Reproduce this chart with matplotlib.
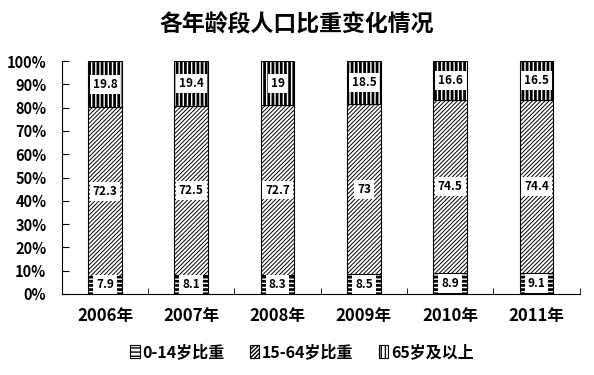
"""Stacked percentage bars of population share by age group"""
import matplotlib
matplotlib.use("Agg")
import matplotlib.pyplot as plt
import numpy as np

plt.rcParams["font.family"] = ["Noto Sans CJK SC", "DejaVu Sans"]

years = ["2006年", "2007年", "2008年", "2009年", "2010年", "2011年"]
child = [7.9, 8.1, 8.3, 8.5, 8.9, 9.1]
working = [72.3, 72.5, 72.7, 73, 74.5, 74.4]
elderly = [19.8, 19.4, 19, 18.5, 16.6, 16.5]
series_names = ["0-14岁比重", "15-64岁比重", "65岁及以上"]


def main():
    """Draw the chart and save it"""
    fig = plt.figure(figsize=(5.94, 3.75), dpi=100)
    ax = fig.add_axes([0.104, 0.216, 0.872, 0.621])

    x = np.arange(len(years))
    width = 0.39
    bottom = np.zeros(len(years))
    hatches = ["----", "////////", "||||"]
    hatch_widths = [2.0, 0.7, 2.0]
    for vals, name, hatch, hw in zip([child, working, elderly], series_names,
                                     hatches, hatch_widths):
        vals = np.array(vals)
        with plt.rc_context({"hatch.linewidth": hw}):
            bars = ax.bar(x, vals, width, bottom=bottom, color="white",
                          edgecolor="black", hatch=hatch, linewidth=0.8,
                          label=name)
        for rect in bars:
            try:
                rect.set_hatch_linewidth(hw)
            except AttributeError:
                pass
        for rect, v, b in zip(bars, vals, bottom):
            ax.text(rect.get_x() + rect.get_width() / 2, b + v / 2, f"{v:g}",
                    ha="center", va="center", fontsize=8.5, fontweight="bold",
                    bbox=dict(boxstyle="square,pad=0.25", fc="white", ec="none"))
        bottom = bottom + vals

    ax.set_xlim(-0.5, len(years) - 0.5)
    ax.set_ylim(0, 100)
    ax.set_yticks(np.arange(0, 101, 10))
    ax.set_yticklabels([f"{t}%" for t in range(0, 101, 10)],
                       fontsize=10.5, fontweight="bold")
    ax.set_xticks(x)
    ax.set_xticklabels(years, fontsize=12, fontweight="bold")
    ax.set_xticks(np.arange(-0.5, len(years), 1), minor=True)
    ax.tick_params(axis="x", which="major", length=0, pad=9)
    ax.tick_params(axis="x", which="minor", length=4, direction="in")
    ax.tick_params(axis="y", length=5, direction="in", pad=11)
    ax.spines["top"].set_visible(False)
    ax.spines["right"].set_visible(False)

    fig.text(0.50, 0.933, "各年龄段人口比重变化情况", ha="center", va="center",
             fontsize=16.5, fontweight="bold")
    leg = fig.legend(loc="center", bbox_to_anchor=(0.508, 0.061), ncol=3,
                     frameon=False, prop={"weight": "bold", "size": 11.5},
                     handlelength=0.6, handleheight=0.8, handletextpad=0.15,
                     columnspacing=1.6)
    for patch in leg.get_patches():
        patch.set_linewidth(0.8)

    fig.savefig("out.png", dpi=100)


if __name__ == "__main__":
    main()
